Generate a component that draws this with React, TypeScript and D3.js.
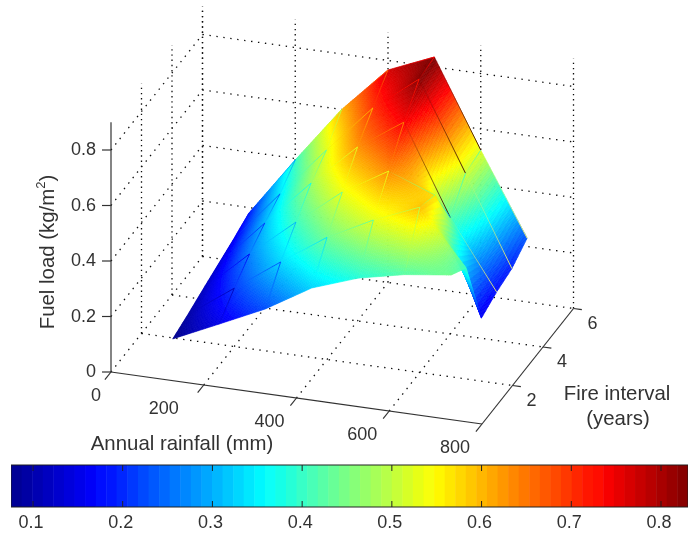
import React from 'react';
import * as d3 from 'd3';

const rainfall = [100, 200, 300, 400, 500, 600, 700];
const fireInterval = [1, 2, 3, 4, 5, 6];

// fuel load (kg/m2) per fire interval, one value per rainfall step
const fuelFire1 = [0.073, 0.15, 0.228, 0.327, 0.386, 0.422, 0.444];
const fuelFire2 = [0.092, 0.21, 0.328, 0.44, 0.526, 0.596, 0.4];
const fuelFire3 = [0.114, 0.264, 0.402, 0.534, 0.633, 0.57, 0.15];
const fuelFire4 = [0.135, 0.306, 0.474, 0.627, 0.74, 0.42, 0.175];
const fuelFire5 = [0.156, 0.342, 0.523, 0.698, 0.826, 0.51, 0.19];
const fuelFire6 = [0.18, 0.395, 0.6, 0.766, 0.836, 0.524, 0.23];
const fuel = [fuelFire1, fuelFire2, fuelFire3, fuelFire4, fuelFire5, fuelFire6];

const rainTicks = [0, 200, 400, 600, 800];
const fireTicks = [2, 4, 6];
const fuelTicks = [0, 0.2, 0.4, 0.6, 0.8];
const colorTicks = [0.1, 0.2, 0.3, 0.4, 0.5, 0.6, 0.7, 0.8];

const width = 688;
const height = 533;
const font = '"Liberation Sans", Arial, sans-serif';
const ink = '#333';

// oblique projection of the box: each data axis has its own screen vector
const origin = { x: 111, y: 372 };
const rainX = d3.scaleLinear().domain([0, 800]).range([0, 371]);
const rainY = d3.scaleLinear().domain([0, 800]).range([0, 52]);
const fireX = d3.scaleLinear().domain([0, 6]).range([0, 91.5]);
const fireY = d3.scaleLinear().domain([0, 6]).range([0, -115.5]);
const fuelY = d3.scaleLinear().domain([0, 0.9]).range([0, -249.75]);

const project = (r: number, f: number, z: number): [number, number] => [
  origin.x + rainX(r) + fireX(f),
  origin.y + rainY(r) + fireY(f) + fuelY(z),
];

const colorMin = 0.0755;
const colorMax = 0.83;
const jet = d3
  .scaleLinear<string>()
  .domain([0, 0.125, 0.375, 0.625, 0.875, 1])
  .range(['#00008f', '#0000ff', '#00ffff', '#ffff00', '#ff0000', '#800000'])
  .clamp(true);
const colorOf = d3.scaleLinear().domain([colorMin, colorMax]).range([0, 1]);

const barX = d3.scaleLinear().domain([0.1, 0.8]).range([33, 661]);

const line = d3.line();

// small bilinear patches, painted from the back of the box to the front
function surfacePatches() {
  const steps = 20;
  const out: { d: string; c: string }[] = [];
  for (let j = fireInterval.length - 2; j >= 0; j--) {
    for (let i = 0; i < rainfall.length - 1; i++) {
      const r = d3.scaleLinear().domain([0, steps]).range([rainfall[i], rainfall[i + 1]]);
      const f = d3.scaleLinear().domain([0, steps]).range([fireInterval[j + 1], fireInterval[j]]);
      const height = (u: number, v: number) => {
        const a = u / steps;
        const b = v / steps;
        return (
          fuel[j + 1][i] * (1 - a) * (1 - b) +
          fuel[j + 1][i + 1] * a * (1 - b) +
          fuel[j][i] * (1 - a) * b +
          fuel[j][i + 1] * a * b
        );
      };
      for (let v = 0; v < steps; v++) {
        for (let u = 0; u < steps; u++) {
          const zs = [height(u, v), height(u + 1, v), height(u + 1, v + 1), height(u, v + 1)];
          const pts = [
            project(r(u), f(v), zs[0]),
            project(r(u + 1), f(v), zs[1]),
            project(r(u + 1), f(v + 1), zs[2]),
            project(r(u), f(v + 1), zs[3]),
          ];
          out.push({ d: line(pts) + 'Z', c: jet(colorOf(d3.mean(zs)!)) });
        }
      }
    }
  }
  return out;
}

// the faint mesh edges, strongest at their far end and fading out
function meshEdges() {
  const out: { id: string; a: [number, number]; b: [number, number]; c: string }[] = [];
  fireInterval.forEach((f, j) => {
    if (j === 0) return;
    rainfall.forEach((r, i) => {
      if (i === 0) return;
      const z = fuel[j][i];
      const start = project(r, f, z);
      const dark = r === 600 && f >= 4;
      if (i < 6 || f >= 4) {
        out.push({
          id: `e${i}-${j}-r`,
          a: start,
          b: project(rainfall[i - 1], f, fuel[j][i - 1]),
          c: dark ? '#3a0808' : i === 6 ? '#e8f070' : jet(colorOf(z - 0.1)),
        });
      }
      if (i < 6) {
        out.push({
          id: `e${i}-${j}-f`,
          a: start,
          b: project(r, fireInterval[j - 1], fuel[j - 1][i]),
          c: jet(colorOf(z - 0.1)),
        });
      }
    });
  });
  return out;
}

export default function App() {
  const patches = surfacePatches();
  const edges = meshEdges();
  const dotted = { stroke: '#111', strokeWidth: 1.3, strokeDasharray: '1.4 5.6', fill: 'none' };
  const dottedUp = { ...dotted, strokeDasharray: '1.4 3.8' };
  const gridTicks = [0.2, 0.4, 0.6, 0.8];

  const seg = (a: [number, number], b: [number, number], key: string, style: object) => (
    <line key={key} x1={a[0]} y1={a[1]} x2={b[0]} y2={b[1]} {...style} />
  );

  const solid = { stroke: ink, strokeWidth: 1.2 };
  const rainLabelShift = [-15, -40, -27, -27, -27];

  return (
    <svg
      width={width}
      height={height}
      style={{ position: 'absolute', left: 0, top: 0, fontFamily: font, fontSize: 18 }}
    >
      <defs>
        <filter id="soft" x="0" y="0" width="100%" height="100%">
          <feGaussianBlur stdDeviation="0.35" />
        </filter>
        {edges.map((e) => (
          <linearGradient
            key={e.id}
            id={e.id}
            gradientUnits="userSpaceOnUse"
            x1={e.a[0]}
            y1={e.a[1]}
            x2={e.b[0]}
            y2={e.b[1]}
          >
            <stop offset="0" stopColor={e.c} stopOpacity={0.95} />
            <stop offset="1" stopColor={e.c} stopOpacity={0.05} />
          </linearGradient>
        ))}
      </defs>

      <g filter="url(#soft)">
        {/* walls and floor grid */}
        <g>
          {rainTicks.map((r) => seg(project(r, 6, 0), project(r, 6, 0.9), `bv${r}`, dottedUp))}
          {rainTicks.slice(1, 4).map((r) => seg(project(r, 0, 0), project(r, 6, 0), `fl${r}`, dotted))}
          {fireTicks.map((f) => seg(project(0, f, 0), project(800, f, 0), `fh${f}`, dotted))}
          {fireTicks.map((f) => seg(project(0, f, 0), project(0, f, 0.9), `lv${f}`, dottedUp))}
          {seg(project(0, 0, 0), project(0, 6, 0), 'lf', dotted)}
          {gridTicks.map((z) => seg(project(0, 6, z), project(800, 6, z), `bh${z}`, dotted))}
          {gridTicks.map((z) => seg(project(0, 0, z), project(0, 6, z), `lh${z}`, dotted))}
        </g>

        {/* surface */}
        <g>
          {patches.map((p, i) => (
            <path key={i} d={p.d} fill={p.c} stroke={p.c} strokeWidth={0.6} />
          ))}
        </g>
        <g>
          {edges.map((e) => (
            <line
              key={e.id}
              x1={e.a[0]}
              y1={e.a[1]}
              x2={e.b[0]}
              y2={e.b[1]}
              stroke={`url(#${e.id})`}
              strokeWidth={1}
            />
          ))}
        </g>

        {/* axes */}
        <g>
          {seg(project(0, 0, 0), project(800, 0, 0), 'ax-r', solid)}
          {seg(project(800, 0, 0), project(800, 6, 0), 'ax-f', solid)}
          {seg(project(0, 0, 0), project(0, 0, 0.9), 'ax-z', solid)}
          {rainTicks.map((r) => seg(project(r, 0, 0), project(r, -0.4, 0), `tr${r}`, solid))}
          {fireTicks.map((f) => seg(project(800, f, 0), project(818, f, 0), `tf${f}`, solid))}
          {fuelTicks.map((z) => {
            const [x, y] = project(0, 0, z);
            return seg([x - 9, y], [x, y], `tz${z}`, solid);
          })}
        </g>

        <g fill={ink}>
          {fuelTicks.map((z) => {
            const [x, y] = project(0, 0, z);
            return (
              <text key={z} x={x - 15} y={y - 1} textAnchor="end" dominantBaseline="central">
                {z === 0 ? '0' : d3.format('.1f')(z)}
              </text>
            );
          })}
          {rainTicks.map((r, i) => {
            const [x, y] = project(r, 0, 0);
            return (
              <text key={r} x={x + rainLabelShift[i]} y={y + 23} textAnchor="middle" dominantBaseline="central">
                {r}
              </text>
            );
          })}
          {fireTicks.map((f) => {
            const [x, y] = project(800, f, 0);
            return (
              <text key={f} x={x + 19} y={y + 14} textAnchor="middle" dominantBaseline="central">
                {f}
              </text>
            );
          })}
          <g fontSize={20.4}>
            <text x={182} y={443} textAnchor="middle" dominantBaseline="central">
              Annual rainfall (mm)
            </text>
            <text x={617} y={393} textAnchor="middle" dominantBaseline="central">
              Fire interval
            </text>
            <text x={618} y={418} textAnchor="middle" dominantBaseline="central">
              (years)
            </text>
            <text transform="translate(47,252) rotate(-90)" textAnchor="middle" dominantBaseline="central">
              Fuel load (kg/m<tspan dy={-7} fontSize={13}>2</tspan>
              <tspan dy={7}>)</tspan>
            </text>
          </g>
        </g>

        {/* colour bar */}
        <g>
          {d3.range(64).map((k) => {
            const x0 = barX(colorMin + ((colorMax - colorMin) * k) / 64);
            const x1 = barX(colorMin + ((colorMax - colorMin) * (k + 1)) / 64);
            return (
              <rect key={k} x={x0} y={465} width={x1 - x0 + 0.5} height={42} fill={jet((k + 0.5) / 64)} />
            );
          })}
          <rect x={11} y={465} width={677} height={42} fill="none" stroke="#222" strokeWidth={1} />
          {colorTicks.map((v) => (
            <g key={v} stroke="#222" strokeWidth={1}>
              <line x1={barX(v)} x2={barX(v)} y1={465} y2={471} />
              <line x1={barX(v)} x2={barX(v)} y1={501} y2={507} />
            </g>
          ))}
          {colorTicks.map((v) => (
            <text key={v} x={barX(v) - 2} y={522} textAnchor="middle" dominantBaseline="central" fill={ink}>
              {d3.format('.1f')(v)}
            </text>
          ))}
        </g>
      </g>
    </svg>
  );
}
